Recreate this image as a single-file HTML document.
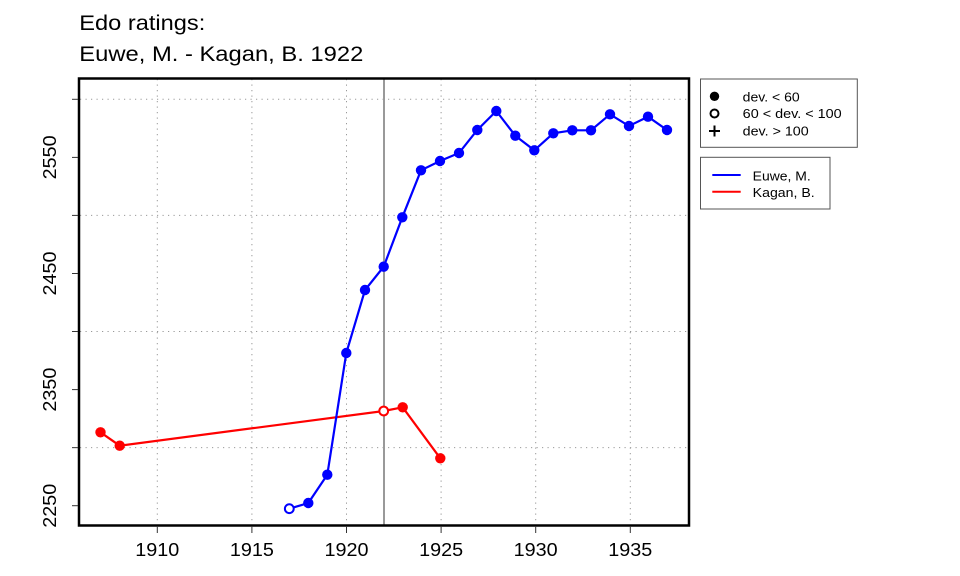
<!DOCTYPE html>
<html><head><meta charset="utf-8"><style>
html,body{margin:0;padding:0;background:#fff;}
svg{display:block;}
text{font-family:"Liberation Sans",Arial,sans-serif;fill:#000;}
</style></head><body>
<svg width="960" height="576" viewBox="0 0 960 576" xmlns="http://www.w3.org/2000/svg">
<rect width="960" height="576" fill="#fff"/>
<text x="79.3" y="30" font-size="21" textLength="126" lengthAdjust="spacingAndGlyphs">Edo ratings:</text>
<text x="79.3" y="61" font-size="21" textLength="284" lengthAdjust="spacingAndGlyphs">Euwe, M. - Kagan, B. 1922</text>
<g stroke="#999" stroke-width="1" stroke-dasharray="1.2 4.3" fill="none">
<line x1="157.3" y1="79" x2="157.3" y2="525"/>
<line x1="251.9" y1="79" x2="251.9" y2="525"/>
<line x1="346.5" y1="79" x2="346.5" y2="525"/>
<line x1="441.1" y1="79" x2="441.1" y2="525"/>
<line x1="535.7" y1="79" x2="535.7" y2="525"/>
<line x1="630.3" y1="79" x2="630.3" y2="525"/>
<line x1="80" y1="447.65" x2="688" y2="447.65"/>
<line x1="80" y1="331.5" x2="688" y2="331.5"/>
<line x1="80" y1="215.4" x2="688" y2="215.4"/>
<line x1="80" y1="99.3" x2="688" y2="99.3"/>
</g>
<line x1="384" y1="79" x2="384" y2="525" stroke="#999" stroke-width="2"/>
<polyline fill="none" stroke="#ff0000" stroke-width="2.2" points="100.5,432.3 119.7,445.7 383.7,411 402.7,407.3 440.3,458.3"/>
<g fill="#ff0000">
<circle cx="100.5" cy="432.3" r="5.2"/>
<circle cx="119.7" cy="445.7" r="5.2"/>
<circle cx="402.7" cy="407.3" r="5.2"/>
<circle cx="440.3" cy="458.3" r="5.2"/>
</g>
<circle cx="383.7" cy="411" r="4.4" fill="#fff" stroke="#ff0000" stroke-width="2"/>
<polyline fill="none" stroke="#0000ff" stroke-width="2.2" points="289.3,508.7 308.3,503 327.3,474.7 346.3,353 365,290 383.7,266.7 402.3,217.3 421,170.3 440,161 459,153 477.3,130 496.3,111 515.3,135.7 534.3,150.3 553.3,133.3 572.3,130.3 591,130.3 610,114.3 629,126 648,116.7 667,130"/>
<g fill="#0000ff">
<circle cx="308.3" cy="503" r="5.2"/>
<circle cx="327.3" cy="474.7" r="5.2"/>
<circle cx="346.3" cy="353" r="5.2"/>
<circle cx="365" cy="290" r="5.2"/>
<circle cx="383.7" cy="266.7" r="5.2"/>
<circle cx="402.3" cy="217.3" r="5.2"/>
<circle cx="421" cy="170.3" r="5.2"/>
<circle cx="440" cy="161" r="5.2"/>
<circle cx="459" cy="153" r="5.2"/>
<circle cx="477.3" cy="130" r="5.2"/>
<circle cx="496.3" cy="111" r="5.2"/>
<circle cx="515.3" cy="135.7" r="5.2"/>
<circle cx="534.3" cy="150.3" r="5.2"/>
<circle cx="553.3" cy="133.3" r="5.2"/>
<circle cx="572.3" cy="130.3" r="5.2"/>
<circle cx="591" cy="130.3" r="5.2"/>
<circle cx="610" cy="114.3" r="5.2"/>
<circle cx="629" cy="126" r="5.2"/>
<circle cx="648" cy="116.7" r="5.2"/>
<circle cx="667" cy="130" r="5.2"/>
</g>
<circle cx="289.3" cy="508.7" r="4.4" fill="#fff" stroke="#0000ff" stroke-width="2"/>
<rect x="79" y="78.5" width="610" height="447" fill="none" stroke="#000" stroke-width="2.5"/>
<g stroke="#333" stroke-width="1">
<line x1="157.3" y1="526" x2="157.3" y2="533"/>
<line x1="251.9" y1="526" x2="251.9" y2="533"/>
<line x1="346.5" y1="526" x2="346.5" y2="533"/>
<line x1="441.1" y1="526" x2="441.1" y2="533"/>
<line x1="535.7" y1="526" x2="535.7" y2="533"/>
<line x1="630.3" y1="526" x2="630.3" y2="533"/>
<line x1="72" y1="505.7" x2="78" y2="505.7"/>
<line x1="72" y1="447.65" x2="78" y2="447.65"/>
<line x1="72" y1="389.6" x2="78" y2="389.6"/>
<line x1="72" y1="331.5" x2="78" y2="331.5"/>
<line x1="72" y1="273.5" x2="78" y2="273.5"/>
<line x1="72" y1="215.4" x2="78" y2="215.4"/>
<line x1="72" y1="157.4" x2="78" y2="157.4"/>
<line x1="72" y1="99.3" x2="78" y2="99.3"/>
</g>
<g font-size="18" text-anchor="middle">
<text x="157.3" y="556" textLength="44" lengthAdjust="spacingAndGlyphs">1910</text>
<text x="251.9" y="556" textLength="44" lengthAdjust="spacingAndGlyphs">1915</text>
<text x="346.5" y="556" textLength="44" lengthAdjust="spacingAndGlyphs">1920</text>
<text x="441.1" y="556" textLength="44" lengthAdjust="spacingAndGlyphs">1925</text>
<text x="535.7" y="556" textLength="44" lengthAdjust="spacingAndGlyphs">1930</text>
<text x="630.3" y="556" textLength="44" lengthAdjust="spacingAndGlyphs">1935</text>
<text transform="translate(56,505.7) rotate(-90)" textLength="44" lengthAdjust="spacingAndGlyphs">2250</text>
<text transform="translate(56,389.6) rotate(-90)" textLength="44" lengthAdjust="spacingAndGlyphs">2350</text>
<text transform="translate(56,273.5) rotate(-90)" textLength="44" lengthAdjust="spacingAndGlyphs">2450</text>
<text transform="translate(56,157.4) rotate(-90)" textLength="44" lengthAdjust="spacingAndGlyphs">2550</text>
</g>
<rect x="700.5" y="79" width="156.8" height="68.3" fill="#fff" stroke="#555" stroke-width="1"/>
<circle cx="714.5" cy="96.3" r="4.7" fill="#000"/>
<circle cx="714.5" cy="113.5" r="4" fill="none" stroke="#000" stroke-width="2"/>
<line x1="709" y1="131" x2="720" y2="131" stroke="#000" stroke-width="2"/>
<line x1="714.5" y1="125.5" x2="714.5" y2="136.5" stroke="#000" stroke-width="2"/>
<g font-size="13">
<text x="742.7" y="101.5" textLength="57" lengthAdjust="spacingAndGlyphs">dev. &lt; 60</text>
<text x="742.7" y="118" textLength="99" lengthAdjust="spacingAndGlyphs">60 &lt; dev. &lt; 100</text>
<text x="742.7" y="135.5" textLength="66" lengthAdjust="spacingAndGlyphs">dev. &gt; 100</text>
</g>
<rect x="700.5" y="157.3" width="129.5" height="51.7" fill="#fff" stroke="#555" stroke-width="1"/>
<line x1="712.3" y1="175" x2="740.7" y2="175" stroke="#0000ff" stroke-width="2"/>
<line x1="712.3" y1="191.7" x2="740.7" y2="191.7" stroke="#ff0000" stroke-width="2"/>
<g font-size="13">
<text x="752.7" y="180.5" textLength="58" lengthAdjust="spacingAndGlyphs">Euwe, M.</text>
<text x="752.7" y="197" textLength="62" lengthAdjust="spacingAndGlyphs">Kagan, B.</text>
</g>
</svg>
</body></html>
